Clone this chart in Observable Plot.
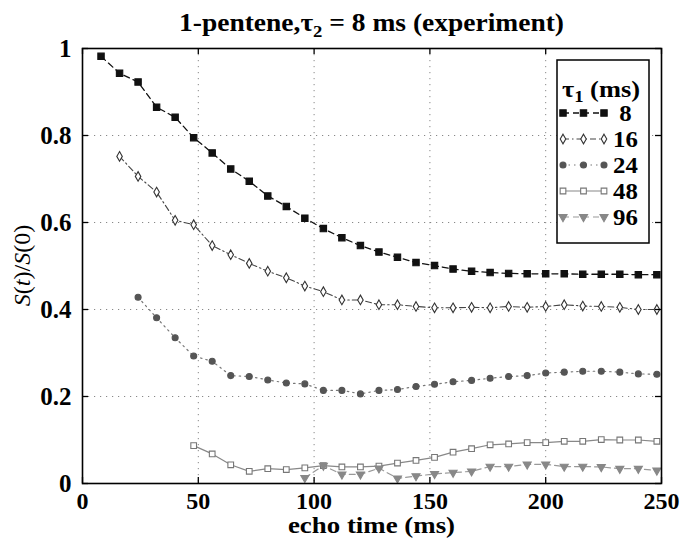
<!DOCTYPE html>
<html><head><meta charset="utf-8">
<script src="https://cdn.jsdelivr.net/npm/d3@7"></script>
<script src="https://cdn.jsdelivr.net/npm/@observablehq/plot@0.6"></script>
<style>
body{margin:0;background:#fff}
#chart{position:relative;width:683px;height:539px}
</style>
</head><body><div id="chart"></div>
<script>
// ---- data ----
const echoTimes = [8,16,24,32,40,48,56,64,72,80,88,96,104,112,120,128,136,144,152,160,168,176,184,192,200,208,216,224,232,240,248];
const tau1 = [8,16,24,48,96];
const tauLabels = [" 8","16","24","48","96"];
const s8  = [0.982,0.943,0.923,0.865,0.842,0.795,0.760,0.723,0.695,0.661,0.637,0.610,0.586,0.565,0.547,0.532,0.520,0.508,0.501,0.493,0.488,0.485,0.483,0.482,0.482,0.482,0.481,0.481,0.481,0.480,0.480];
const s16 = [0.752,0.706,0.670,0.605,0.595,0.547,0.526,0.506,0.488,0.473,0.454,0.441,0.422,0.422,0.411,0.411,0.407,0.404,0.404,0.405,0.404,0.407,0.405,0.407,0.411,0.408,0.407,0.405,0.400,0.400];
const s24 = [0.428,0.381,0.335,0.293,0.281,0.248,0.246,0.238,0.231,0.229,0.214,0.214,0.206,0.214,0.216,0.223,0.228,0.234,0.237,0.242,0.246,0.248,0.254,0.256,0.258,0.258,0.256,0.252,0.251];
const s48 = [0.087,0.068,0.043,0.028,0.034,0.032,0.036,0.041,0.038,0.038,0.040,0.047,0.053,0.060,0.072,0.080,0.089,0.091,0.094,0.094,0.097,0.097,0.101,0.100,0.100,0.097];
const s96 = [0.013,0.041,0.021,0.021,0.035,0.012,0.017,0.022,0.025,0.028,0.039,0.039,0.044,0.044,0.039,0.039,0.038,0.034,0.034,0.030];
const xTicks = [0,50,100,150,200,250];
const yTicks = [0,0.2,0.4,0.6,0.8,1];
const yTickLabels = ["0","0.2","0.4","0.6","0.8","1"];

// ---- styles ----
const styles = [
  {symbol:"square",   r:3.6, fill:"#111", stroke:"#111", line:"#111", dash:"6,4",        lw:1.3, rot:0},
  {symbol:"diamond",  r:2.9, fill:"white", stroke:"#333", line:"#444", dash:"6,3,1.5,3", lw:1.1, rot:0},
  {symbol:"circle",   r:3.0, fill:"#555", stroke:"#555", line:"#777", dash:"1.5,4",      lw:1.2, rot:0},
  {symbol:"square",   r:3.2, fill:"white", stroke:"#777", line:"#888", dash:null,        lw:1.2, rot:0},
  {symbol:"triangle", r:3.0, fill:"#888", stroke:"#888", line:"#999", dash:"6,4",        lw:1.2, rot:180}
];
const seriesValues = [s8,s16,s24,s48,s96];
const series = tau1.map((t,k) => {
  const start = echoTimes.indexOf(t);
  return seriesValues[k].map((v,i) => ({tau:t, x:echoTimes[start+i], y:v}));
});

const W=683, H=539, mL=82, mR=22, mT=48, mB=56;
const pW = W-mL-mR, pH = H-mT-mB, tk = 6;
const font = "'Liberation Serif', 'Times New Roman', serif";

const marks = [
  Plot.gridX(xTicks.slice(1,-1), {stroke:"#888", strokeOpacity:1, strokeWidth:1, strokeDasharray:"1.2,4.8"}),
  Plot.gridY(yTicks.slice(1,-1), {stroke:"#888", strokeOpacity:1, strokeWidth:1, strokeDasharray:"1.2,4.8"})
];
series.forEach((data,k) => {
  const s = styles[k];
  marks.push(Plot.line(data, {x:"x", y:"y", stroke:s.line, strokeWidth:s.lw, strokeDasharray:s.dash}));
});
series.forEach((data,k) => {
  const s = styles[k];
  marks.push(Plot.dot(data, {x:"x", y:"y", symbol:s.symbol, r:s.r, fill:s.fill, stroke:s.stroke, strokeWidth:1.1, rotate:s.rot}));
});
marks.push(
  Plot.tickX(xTicks, {x:d=>d, insetTop:pH-tk, stroke:"black", strokeWidth:1.3}),
  Plot.tickX(xTicks, {x:d=>d, insetBottom:pH-tk, stroke:"black", strokeWidth:1.3}),
  Plot.tickY(yTicks, {y:d=>d, insetRight:pW-tk, stroke:"black", strokeWidth:1.3}),
  Plot.tickY(yTicks, {y:d=>d, insetLeft:pW-tk, stroke:"black", strokeWidth:1.3}),
  Plot.axisX(xTicks, {tickSize:0, tickPadding:8, label:null, fontSize:24}),
  Plot.axisY(yTicks, {tickSize:0, tickPadding:11, label:null, fontSize:25, tickFormat:d=>yTickLabels[yTicks.indexOf(d)]}),
  Plot.frame({stroke:"black", strokeWidth:1.6})
);

const plot = Plot.plot({
  width:W, height:H, marginLeft:mL, marginRight:mR, marginTop:mT, marginBottom:mB,
  x:{domain:[0,250]}, y:{domain:[0,1]},
  style:{fontFamily:font, fontWeight:"bold", background:"white", color:"black", overflow:"visible"},
  marks
});

const svg = d3.select(plot);
// title
const t = svg.append("text").attr("transform", `translate(${mL+pW/2},31) scale(1.1,1)`).attr("text-anchor","middle")
  .attr("font-size", 25).attr("font-weight","bold").attr("font-family", font);
t.append("tspan").text("1-pentene,τ");
t.append("tspan").attr("font-size",17).attr("dy",6).text("2");
t.append("tspan").attr("dy",-6).text(" = 8 ms (experiment)");
// x label
svg.append("text").attr("transform", `translate(${mL+pW/2},533) scale(1.12,1)`).attr("text-anchor","middle")
  .attr("font-size", 24).attr("font-weight","bold").attr("font-family", font).text("echo time (ms)");
// y label
const yl = svg.append("text").attr("transform", `translate(30,${mT+pH/2}) rotate(-90)`).attr("text-anchor","middle")
  .attr("font-size", 24).attr("font-weight","normal").attr("font-family", font);
yl.append("tspan").attr("font-style","italic").text("S");
yl.append("tspan").text("(");
yl.append("tspan").attr("font-style","italic").text("t");
yl.append("tspan").text(")/");
yl.append("tspan").attr("font-style","italic").text("S");
yl.append("tspan").text("(0)");

// legend
const lg = svg.append("g").attr("font-family", font).attr("font-weight","bold").attr("text-anchor","start");
lg.append("rect").attr("x",557).attr("y",60).attr("width",92).attr("height",183)
  .attr("fill","white").attr("stroke","black").attr("stroke-width",1.5);
const lt = lg.append("text").attr("transform","translate(562,97) scale(1.1,1)").attr("font-size",24).attr("text-anchor","start");
lt.append("tspan").text("τ");
lt.append("tspan").attr("font-size",17).attr("dy",5).text("1");
lt.append("tspan").attr("dy",-5).text(" (ms)");
const symMap = {square:d3.symbolSquare, diamond:d3.symbolDiamond, circle:d3.symbolCircle, triangle:d3.symbolTriangle};
tau1.forEach((tv,k) => {
  const s = styles[k], cy = 113 + k*26;
  lg.append("line").attr("x1",563).attr("x2",604).attr("y1",cy).attr("y2",cy)
    .attr("stroke",s.line).attr("stroke-width",s.lw).attr("stroke-dasharray",s.dash);
  const path = d3.symbol(symMap[s.symbol], Math.PI*s.r*s.r)();
  [563,583.5,604].forEach(px => {
    lg.append("path").attr("d",path).attr("transform",`translate(${px},${cy}) rotate(${s.rot})`)
      .attr("fill",s.fill).attr("stroke",s.stroke).attr("stroke-width",1.1);
  });
  lg.append("text").attr("transform",`translate(613,${cy+8}) scale(1.08,1)`).attr("font-size",23).attr("text-anchor","start")
    .attr("xml:space","preserve").style("white-space","pre").text(tauLabels[k]);
});

document.getElementById("chart").appendChild(plot);
</script>
</body></html>
